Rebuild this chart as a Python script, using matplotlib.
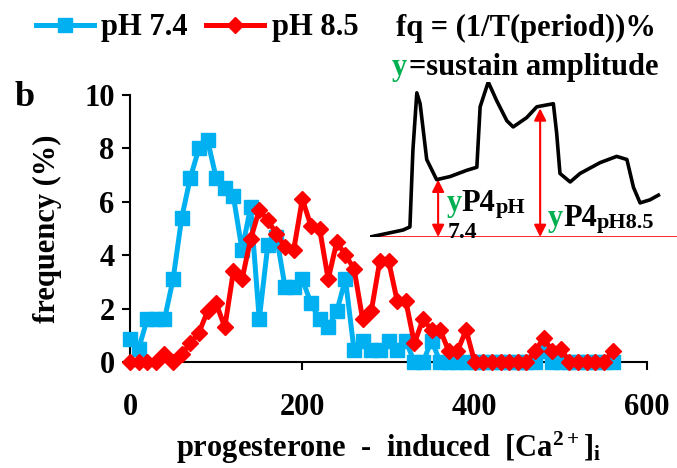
import matplotlib
matplotlib.use("Agg")
import matplotlib.pyplot as plt
from matplotlib.lines import Line2D

plt.rcParams["font.family"] = ["Liberation Serif", "DejaVu Serif"]
plt.rcParams["font.weight"] = "bold"
plt.rcParams["mathtext.fontset"] = "custom"
plt.rcParams["mathtext.rm"] = "Liberation Serif:bold"
plt.rcParams["mathtext.it"] = "Liberation Serif:bold"
plt.rcParams["mathtext.bf"] = "Liberation Serif:bold"

# Frequency distributions of progesterone-induced [Ca2+]i amplitude
ca_bins = list(range(0, 570, 10))
freq_ph74 = [0.85, 0.5, 1.6, 1.6, 1.6, 3.1, 5.4, 6.9, 8.0, 8.3,
             6.9, 6.5, 6.2, 4.2, 5.8, 1.6, 4.4, 4.7, 2.8, 2.8,
             3.1, 2.2, 1.6, 1.3, 1.9, 3.1, 0.45, 0.8, 0.45, 0.45,
             0.8, 0.45, 0.8, 0.0, 0.0, 0.8, 0.0, 0.0, 0.0, 0.0,
             0.0, 0.0, 0.0, 0.0, 0.0, 0.0, 0.0, 0.0, 0.4, 0.0,
             0.0, 0.0, 0.0, 0.0, 0.0, 0.0, 0.0]
freq_ph85 = [0.0, 0.0, 0.0, 0.0, 0.3, 0.0, 0.3, 0.7, 1.1, 1.9,
             2.2, 1.3, 3.4, 3.1, 4.6, 5.7, 5.3, 4.8, 4.3, 4.2,
             6.1, 5.1, 5.0, 3.1, 4.5, 4.0, 3.5, 1.6, 1.9, 3.8,
             3.8, 2.3, 2.3, 0.7, 1.6, 1.2, 1.2, 0.4, 0.4, 1.2,
             0.0, 0.0, 0.0, 0.0, 0.0, 0.0, 0.0, 0.4, 0.9, 0.4,
             0.5, 0.0, 0.0, 0.0, 0.0, 0.0, 0.4]

# Schematic calcium trace for the inset (time, normalised amplitude)
trace_t = [0, 11, 13.3, 14.3, 15.6, 16.7, 18.9, 22.2, 26.7, 32.2, 35.6,
           36.7, 39.4, 42.2, 45.6, 47.7, 52.2, 55.6, 61.1, 62.2, 63.3,
           66.7, 70, 76.7, 82.2, 85.6, 87.8, 90, 93.3, 96.1]
trace_amp = [0, 0.045, 0.065, 0.56, 0.93, 0.86, 0.50, 0.37, 0.39, 0.43,
             0.45, 0.84, 1.0, 0.88, 0.75, 0.71, 0.77, 0.84, 0.86, 0.67,
             0.41, 0.355, 0.41, 0.48, 0.52, 0.50, 0.32, 0.22, 0.24, 0.27]
sustain_t = [22.7, 56.7]
sustain_amp = [0.37, 0.83]

BLUE = "#00B0F0"
RED = "#FF0000"
GREEN = "#00B050"
FS = 22

W, H = 677, 468
fig = plt.figure(figsize=(W / 100, H / 100), dpi=100)
ax = fig.add_axes([130 / W, 1 - 362 / H, 517 / W, 267 / H])

ax.plot(ca_bins, freq_ph74, color=BLUE, lw=3.6, marker="s", ms=10.5,
        clip_on=False, zorder=3)
ax.plot(ca_bins, freq_ph85, color=RED, lw=3.6, marker="D", ms=8.5,
        clip_on=False, zorder=4)

ax.set_xlim(0, 600)
ax.set_ylim(0, 10)
ax.set_xticks([0, 200, 400, 600])
ax.set_yticks([0, 2, 4, 6, 8, 10])
for s in ("top", "right"):
    ax.spines[s].set_visible(False)
for s in ("left", "bottom"):
    ax.spines[s].set_linewidth(1.5)
ax.tick_params(direction="out", length=6, width=1.5, labelsize=FS, pad=5)
for lab in ax.get_xticklabels() + ax.get_yticklabels():
    lab.set_fontweight("bold")
ax.tick_params(axis="x", pad=16)

ax.set_ylabel("frequency (%)", fontsize=FS, fontweight="bold",
              labelpad=16)
ax.set_xlabel(r"progesterone  -  induced  [Ca$^{2+}$]$_{\mathrm{i}}$",
              fontsize=FS, fontweight="bold", labelpad=6)

fig.text(15 / W, 1 - 97 / H, "b", fontsize=26, fontweight="bold",
         ha="left", va="center")

# Legend
handles = [Line2D([], [], color=BLUE, lw=3.6, marker="s", ms=10.5),
           Line2D([], [], color=RED, lw=3.6, marker="D", ms=8.5)]
fig.legend(handles, ["pH 7.4", "pH 8.5"], loc="upper left",
           bbox_to_anchor=(8 / W, 1.03), ncol=2, frameon=False,
           prop={"size": FS, "weight": "bold"}, handlelength=1.9,
           columnspacing=0.6, handletextpad=0.25)

# Header text for the inset
fig.text(526 / W, 1 - 28 / H, "fq = (1/T(period))%", fontsize=FS,
         fontweight="bold", ha="center", va="center")
hy = fig.text(392 / W, 1 - 68 / H, "y", fontsize=FS, fontweight="bold",
              color=GREEN, ha="left", va="center")
fig.add_artist(plt.Annotation("=sustain amplitude", xy=(1, 0.5),
                              xycoords=hy, xytext=(1, 0),
                              textcoords="offset points", fontsize=FS,
                              fontweight="bold", ha="left", va="center"))

# Inset trace
ins = fig.add_axes([370 / W, 1 - 237 / H, 307 / W, 155 / H])
ins.set_xlim(0, 102.3)
ins.set_ylim(0, 1)
ins.axis("off")
ins.axhline(0, color=RED, lw=1.2, zorder=1)
ins.plot(trace_t, trace_amp, color="black", lw=2.6, zorder=2,
         solid_joinstyle="round")
for t, a in zip(sustain_t, sustain_amp):
    ins.annotate("", xy=(t, a), xytext=(t, 0),
                 arrowprops=dict(arrowstyle="<|-|>", color=RED, lw=1.5,
                                 mutation_scale=18, shrinkA=0, shrinkB=0))


def chain(x, y, parts):
    """Draw coloured/sized text pieces one after another."""
    prev = None
    for txt, col, size, dy in parts:
        if prev is None:
            prev = ins.text(x, y, txt, color=col, fontsize=size,
                            fontweight="bold", ha="left", va="baseline",
                            transform=ins.transData)
        else:
            prev = ins.annotate(txt, xy=(1, 0), xycoords=prev,
                                xytext=(0, dy), textcoords="offset points",
                                color=col, fontsize=size, fontweight="bold",
                                ha="left", va="bottom")
    return prev


chain(25.5, 0.17, [("y", GREEN, FS, 0), ("P4", "black", FS, 0),
                   ("pH", "black", 16, 0)])
ins.text(25.8, 0.03, "7.4", fontsize=17, fontweight="bold",
         ha="left", va="center", zorder=3)
chain(59.3, 0.07, [("y", GREEN, FS, 0), ("P4", "black", FS, 0),
                   ("pH8.5", "black", 16, 0)])

fig.savefig("out.png", dpi=100)
